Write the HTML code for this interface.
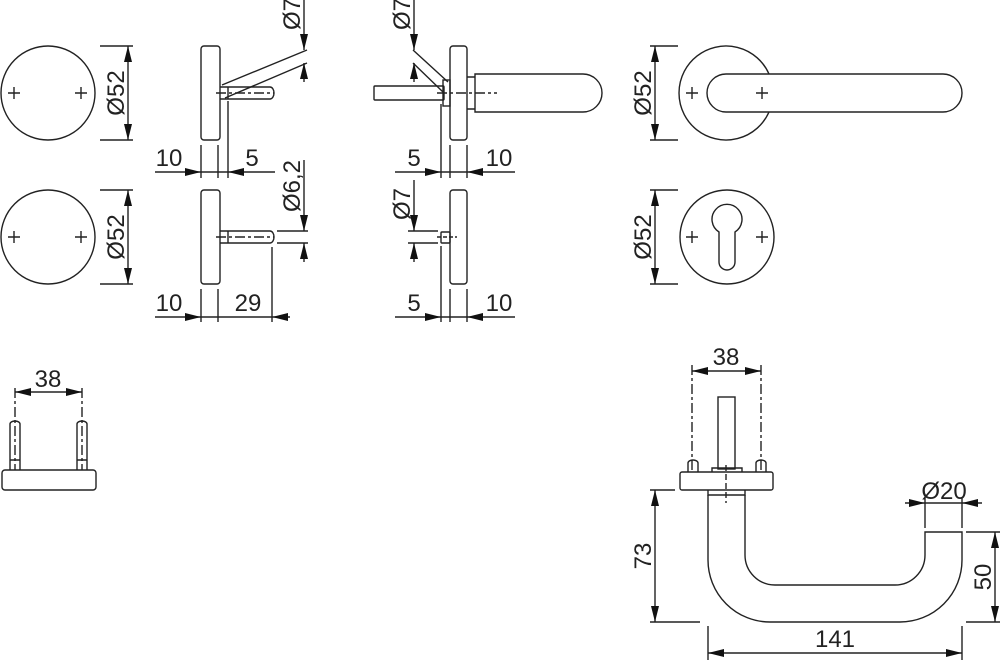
<!DOCTYPE html>
<html><head><meta charset="utf-8"><style>
html,body{margin:0;padding:0;background:#fff;}
svg{display:block}
text{font-family:"Liberation Sans",sans-serif;font-size:24px;fill:#222;}
</style></head><body>
<svg width="1000" height="660" viewBox="0 0 1000 660" xmlns="http://www.w3.org/2000/svg">
<defs>
<marker id="a" viewBox="0 0 16 8" refX="16" refY="4" markerWidth="16" markerHeight="8" markerUnits="userSpaceOnUse" orient="auto"><path d="M0,0 L16,4 L0,8 Z" fill="#111"/></marker>
</defs>
<g fill="none" stroke="#222" stroke-width="1.4">
<!-- left circles -->
<circle cx="48" cy="93" r="47"/>
<path d="M8,93h12M14,87v12M75,93h12M81,87v12"/>
<path d="M100,46h33M100,140h33"/>
<line x1="128" y1="93" x2="128" y2="46" marker-end="url(#a)"/>
<line x1="128" y1="93" x2="128" y2="140" marker-end="url(#a)"/>
<circle cx="48" cy="237" r="47"/>
<path d="M8,237h12M14,231v12M75,237h12M81,231v12"/>
<path d="M100,190h33M100,284h33"/>
<line x1="128" y1="237" x2="128" y2="190" marker-end="url(#a)"/>
<line x1="128" y1="237" x2="128" y2="284" marker-end="url(#a)"/>

<!-- side view 1 -->
<rect x="201" y="46" width="19" height="94" rx="3"/>
<path d="M220,87h50a4,6 0 0 1 0,12h-50M228,87v12"/>
<path d="M216,93h58" stroke-dasharray="10,3,3,3"/>
<path d="M222,85L307,50M225,98L307,63"/>
<line x1="304" y1="0" x2="304" y2="50" marker-end="url(#a)"/>
<line x1="304" y1="82" x2="304" y2="63" marker-end="url(#a)"/>
<path d="M201,145v33M218,145v33M228,101v77"/>
<line x1="155" y1="172" x2="201" y2="172" marker-end="url(#a)"/>
<line x1="275" y1="172" x2="228" y2="172" marker-end="url(#a)"/>
<line x1="201" y1="172" x2="228" y2="172"/>

<!-- side view 2 -->
<rect x="201" y="190" width="19" height="94" rx="3"/>
<path d="M220,231h50a4,6 0 0 1 0,12h-50M228,231v12"/>
<path d="M216,237h58" stroke-dasharray="10,3,3,3"/>
<path d="M277,231h31M277,243h31"/>
<line x1="304" y1="160" x2="304" y2="231" marker-end="url(#a)"/>
<line x1="304" y1="262" x2="304" y2="243" marker-end="url(#a)"/>
<path d="M201,289v33M218,289v33M272,247v75"/>
<line x1="155" y1="317" x2="201" y2="317" marker-end="url(#a)"/>
<line x1="290" y1="317" x2="272" y2="317" marker-end="url(#a)"/>
<line x1="201" y1="317" x2="272" y2="317"/>

<!-- side view 3 -->
<rect x="450" y="46" width="17" height="94" rx="3"/>
<rect x="374" y="86" width="70" height="14" rx="1"/>
<rect x="443" y="80" width="7" height="26"/>
<path d="M467,77h8v32h-8M475,74h108a19,19 0 0 1 0,38h-108Z"/>
<path d="M437,93h60" stroke-dasharray="10,3,3,3"/>
<path d="M413,50L448,82M413,63L443,92"/>
<line x1="414" y1="0" x2="414" y2="50" marker-end="url(#a)"/>
<line x1="414" y1="82" x2="414" y2="63" marker-end="url(#a)"/>
<path d="M441,104v74M450,145v33M467,145v33"/>
<line x1="395" y1="172" x2="441" y2="172" marker-end="url(#a)"/>
<line x1="515" y1="172" x2="467" y2="172" marker-end="url(#a)"/>
<line x1="441" y1="172" x2="467" y2="172"/>

<!-- side view 4 -->
<rect x="450" y="190" width="17" height="94" rx="3"/>
<rect x="441" y="232" width="9" height="11" rx="1"/>
<path d="M437,237h20" stroke-dasharray="4,2"/>
<path d="M408,231h30M408,243h30"/>
<line x1="414" y1="180" x2="414" y2="231" marker-end="url(#a)"/>
<line x1="414" y1="262" x2="414" y2="243" marker-end="url(#a)"/>
<path d="M441,246v76M450,289v33M467,289v33"/>
<line x1="395" y1="317" x2="441" y2="317" marker-end="url(#a)"/>
<line x1="515" y1="317" x2="467" y2="317" marker-end="url(#a)"/>
<line x1="441" y1="317" x2="467" y2="317"/>

<!-- right rosette with lever -->
<path d="M769,74 A47,47 0 1 0 769,112"/>
<path d="M726,74h217a19,19 0 0 1 0,38h-217a19,19 0 0 1 0,-38Z"/>
<path d="M686,93h12M692,87v12M756,93h12M762,87v12"/>
<path d="M650,46h28M650,140h28"/>
<line x1="655" y1="93" x2="655" y2="46" marker-end="url(#a)"/>
<line x1="655" y1="93" x2="655" y2="140" marker-end="url(#a)"/>
<!-- cylinder rosette -->
<circle cx="727" cy="237" r="47"/>
<path d="M719,232 A15,15 0 1 1 735,232 L735,262 A8,8 0 0 1 719,262 Z"/>
<path d="M686,237h12M692,231v12M756,237h12M762,231v12"/>
<path d="M650,190h28M650,284h28"/>
<line x1="655" y1="237" x2="655" y2="190" marker-end="url(#a)"/>
<line x1="655" y1="237" x2="655" y2="284" marker-end="url(#a)"/>

<!-- bottom left -->
<rect x="2" y="470" width="94" height="20" rx="3"/>
<path d="M10,470v-10h10v10M10,460v-36a5,3 0 0 1 10,0v36"/>
<path d="M77,470v-10h10v10M77,460v-36a5,3 0 0 1 10,0v36"/>
<path d="M15,388v82M82,388v82" stroke-dasharray="10,3,3,3"/>
<line x1="48" y1="392" x2="15" y2="392" marker-end="url(#a)"/>
<line x1="48" y1="392" x2="82" y2="392" marker-end="url(#a)"/>

<!-- bottom right handle -->
<rect x="718" y="397" width="17" height="72"/>
<rect x="680" y="472" width="93" height="18" rx="2"/>
<path d="M688,472v-9a5,3 0 0 1 10,0v9M756,472v-9a5,3 0 0 1 10,0v9"/>
<path d="M712,472v-4h30v4"/>
<path d="M692,365v106M761,365v106" stroke-dasharray="10,3,3,3"/>
<path d="M726,465v38" stroke-dasharray="6,3"/>
<line x1="726" y1="371" x2="692" y2="371" marker-end="url(#a)"/>
<line x1="726" y1="371" x2="761" y2="371" marker-end="url(#a)"/>
<path d="M708,490v5h37v-5"/>
<path d="M708,495L708,560A62,62 0 0 0 770,622L900,622A62,62 0 0 0 962,560L962,532L925,532L925,555A30,30 0 0 1 895,585L775,585A30,30 0 0 1 745,555L745,495"/>
<path d="M650,490h25M650,622h50"/>
<line x1="655" y1="556" x2="655" y2="490" marker-end="url(#a)"/>
<line x1="655" y1="556" x2="655" y2="622" marker-end="url(#a)"/>
<path d="M966,532h34M966,622h34"/>
<line x1="995" y1="577" x2="995" y2="532" marker-end="url(#a)"/>
<line x1="995" y1="577" x2="995" y2="622" marker-end="url(#a)"/>
<path d="M925,498v30M962,498v30"/>
<line x1="905" y1="503" x2="925" y2="503" marker-end="url(#a)"/>
<line x1="982" y1="503" x2="962" y2="503" marker-end="url(#a)"/>
<line x1="925" y1="503" x2="962" y2="503"/>
<path d="M708,626v34M962,626v34"/>
<line x1="835" y1="653" x2="708" y2="653" marker-end="url(#a)"/>
<line x1="835" y1="653" x2="962" y2="653" marker-end="url(#a)"/>
</g>

<g>
<text transform="translate(124,93) rotate(-90)" text-anchor="middle">Ø52</text>
<text transform="translate(124,237) rotate(-90)" text-anchor="middle">Ø52</text>
<text transform="translate(300,14) rotate(-90)" text-anchor="middle">Ø7</text>
<text transform="translate(410,14) rotate(-90)" text-anchor="middle">Ø7</text>
<text transform="translate(300,186) rotate(-90)" text-anchor="middle">Ø6,2</text>
<text transform="translate(410,204) rotate(-90)" text-anchor="middle">Ø7</text>
<text transform="translate(651,93) rotate(-90)" text-anchor="middle">Ø52</text>
<text transform="translate(651,237) rotate(-90)" text-anchor="middle">Ø52</text>
<text transform="translate(651,556) rotate(-90)" text-anchor="middle">73</text>
<text transform="translate(991,577) rotate(-90)" text-anchor="middle">50</text>
<text x="169" y="166" text-anchor="middle">10</text>
<text x="252" y="166" text-anchor="middle">5</text>
<text x="169" y="311" text-anchor="middle">10</text>
<text x="248" y="311" text-anchor="middle">29</text>
<text x="414" y="166" text-anchor="middle">5</text>
<text x="499" y="166" text-anchor="middle">10</text>
<text x="414" y="311" text-anchor="middle">5</text>
<text x="499" y="311" text-anchor="middle">10</text>
<text x="48" y="387" text-anchor="middle">38</text>
<text x="726" y="365" text-anchor="middle">38</text>
<text x="944" y="499" text-anchor="middle">Ø20</text>
<text x="835" y="647" text-anchor="middle">141</text>
</g>
</svg>
</body></html>
